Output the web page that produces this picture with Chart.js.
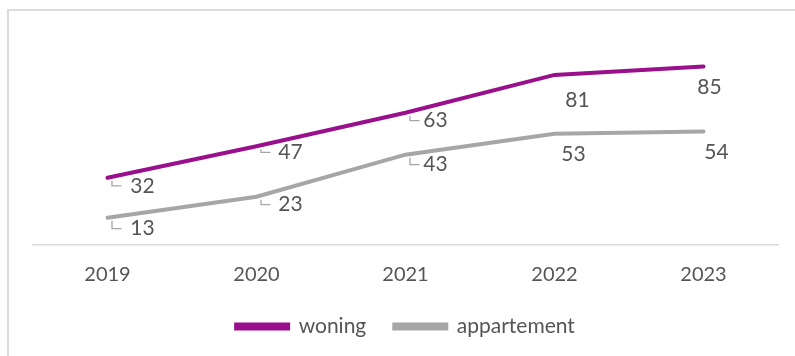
<!DOCTYPE html>
<html>
<head>
<meta charset="utf-8">
<script src="https://cdn.jsdelivr.net/npm/chart.js@4/dist/chart.umd.min.js"></script>
<style>
  html, body { margin: 0; padding: 0; background: #fff; }
  #wrap { position: relative; width: 795px; height: 356px; overflow: hidden; }
  #frame { position: absolute; left: 7px; top: 9px; width: 900px; height: 400px;
           border-left: 2px solid #dcdcdc; border-top: 2px solid #dcdcdc; }
  #c { position: absolute; left: 0; top: 0; }
</style>
</head>
<body>
<div id="wrap">
  <div id="frame"></div>
  <canvas id="c" width="795" height="356"></canvas>
</div>
<script>
// data
var years = ['2019', '2020', '2021', '2022', '2023'];
var woning = [32, 47, 63, 81, 85];
var appartement = [13, 23, 43, 53, 54];

var textColor = '#555555';
var fontFamily = 'Lato, "Open Sans", sans-serif';

// label placement relative to the point (style only), and which ones get a leader line
var labelStyle = [
    { dx: [35, 34, 30, 23, 6],  dy: [8, 6, 8, 25, 21],   leader: [true, true, true, false, false] },
    { dx: [35, 34, 30, 19, 13], dy: [11, 8, 10, 21, 21], leader: [true, true, true, false, false] }
];

var pointLabels = {
    id: 'pointLabels',
    afterDatasetsDraw: function(chart){
        var ctx = chart.ctx;
        ctx.save();
        ctx.font = '21px ' + fontFamily;
        ctx.fillStyle = textColor;
        ctx.textAlign = 'center';
        ctx.textBaseline = 'middle';
        chart.data.datasets.forEach(function(ds, di){
            var meta = chart.getDatasetMeta(di);
            var st = labelStyle[di];
            meta.data.forEach(function(pt, i){
                var lx = pt.x + st.dx[i], ly = pt.y + st.dy[i];
                if(st.leader[i]){
                    ctx.strokeStyle = '#a6a6a6';
                    ctx.lineWidth = 1.3;
                    ctx.beginPath();
                    ctx.moveTo(pt.x + 4.5, pt.y + 3);
                    ctx.lineTo(pt.x + 4.5, ly);
                    ctx.lineTo(pt.x + 14, ly);
                    ctx.stroke();
                }
                ctx.fillText(ds.data[i], lx, ly);
            });
        });
        ctx.restore();
    }
};

// pull the legend a little closer to the axis labels
var legendNudge = {
    id: 'legendNudge',
    afterLayout: function(chart){
        chart.legend.top -= 9;
        chart.legend.bottom -= 9;
    }
};

var ctx = document.getElementById('c').getContext('2d');
new Chart(ctx, {
    type: 'line',
    data: {
        labels: years,
        datasets: [
            { label: 'woning', data: woning, borderColor: '#990f8c', backgroundColor: '#990f8c',
              borderWidth: 4, pointRadius: 0, tension: 0, borderCapStyle: 'round' },
            { label: 'appartement', data: appartement, borderColor: '#a6a6a6', backgroundColor: '#a6a6a6',
              borderWidth: 4, pointRadius: 0, tension: 0, borderCapStyle: 'round' }
        ]
    },
    options: {
        responsive: false,
        animation: false,
        layout: { padding: { left: 33, right: 17, top: 35, bottom: 0 } },
        plugins: {
            tooltip: { enabled: false },
            legend: {
                position: 'bottom',
                labels: {
                    boxWidth: 52, boxHeight: 4, padding: 28,
                    color: textColor,
                    font: { family: fontFamily, size: 21 }
                }
            }
        },
        scales: {
            x: {
                offset: true,
                grid: { display: false },
                border: { display: true, color: '#d9d9d9', width: 1.5 },
                ticks: { color: textColor, padding: 10, font: { family: fontFamily, size: 20 } }
            },
            y: {
                display: false,
                min: 0, max: 100
            }
        }
    },
    plugins: [pointLabels, legendNudge]
});
</script>
</body>
</html>
